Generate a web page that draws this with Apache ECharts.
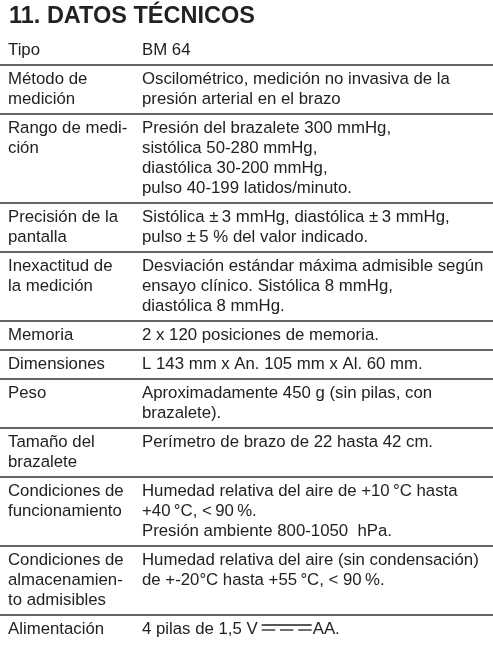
<!DOCTYPE html>
<html>
<head>
<meta charset="utf-8">
<script src="https://cdn.jsdelivr.net/npm/echarts@6/dist/echarts.min.js"></script>
<style>
html,body{margin:0;padding:0;background:#fff;}
#chart{width:493px;height:658px;}
</style>
</head>
<body>
<div id="chart"></div>
<script>
// ---- data ----
const titleText = "11. DATOS TÉCNICOS";
const labels = [
  "Tipo",
  "Método de\nmedición",
  "Rango de medi-\nción",
  "Precisión de la\npantalla",
  "Inexactitud de\nla medición",
  "Memoria",
  "Dimensiones",
  "Peso",
  "Tamaño del\nbrazalete",
  "Condiciones de\nfuncionamiento",
  "Condiciones de\nalmacenamien-\nto admisibles",
  "Alimentación"
];
const values = [
  "BM 64",
  "Oscilométrico, medición no invasiva de la\npresión arterial en el brazo",
  "Presión del brazalete 300 mmHg,\nsistólica 50-280 mmHg,\ndiastólica 30-200 mmHg,\npulso 40-199 latidos/minuto.",
  "Sistólica \u00b1\u20093 mmHg, diastólica \u00b1\u20093 mmHg,\npulso \u00b1\u20095 % del valor indicado.",
  "Desviación estándar máxima admisible según\nensayo clínico. Sistólica 8 mmHg,\ndiastólica 8 mmHg.",
  "2 x 120 posiciones de memoria.",
  "L 143 mm x An. 105 mm x Al. 60 mm.",
  "Aproximadamente 450 g (sin pilas, con\nbrazalete).",
  "Perímetro de brazo de 22 hasta 42 cm.",
  "Humedad relativa del aire de +10\u2009°C hasta\n+40\u2009°C, <\u200990\u2009%.\nPresión ambiente 800-1050  hPa.",
  "Humedad relativa del aire (sin condensación)\nde +-20°C hasta +55\u2009°C, < 90\u2009%.",
  "4 pilas de 1,5 V \u2393 AA."
];
const DC_SYMBOL = "\u2393";

// ---- layout / style ----
const W = 493, H = 658;
const FONT_SIZE = 16.8, LINE_H = 20, PAD = 9, TABLE_TOP = 36;
const LABEL_X = 8, VALUE_X = 142;
const FONT = FONT_SIZE + 'px "Liberation Sans", Arial, sans-serif';
const TEXT_COLOR = '#222';
const RULE_COLOR = '#333';

const lineCounts = labels.map((l, i) =>
  Math.max(l.split('\n').length, values[i].split('\n').length));
const rows = [];
let acc = TABLE_TOP;
lineCounts.forEach((n, i) => {
  const h = n * LINE_H + PAD;
  rows.push([acc, acc + h, i]);
  acc += h;
});

const ctx = document.createElement('canvas').getContext('2d');
ctx.font = FONT;
const measure = t => ctx.measureText(t).width;

function renderItem(params, api) {
  const i = api.value(2);
  const top = api.coord([0, api.value(0)])[1];
  const bottom = api.coord([0, api.value(1)])[1];
  const xL = api.coord([LABEL_X, 0])[0];
  const xV = api.coord([VALUE_X, 0])[0];
  const x0 = api.coord([0, 0])[0];
  const x1 = api.coord([W, 0])[0];
  const ty = top + PAD / 2;
  const children = [];
  children.push({
    type: 'text',
    style: { x: xL, y: ty, text: labels[i], font: FONT, fill: TEXT_COLOR,
             lineHeight: LINE_H, verticalAlign: 'top', align: 'left' }
  });
  const val = values[i];
  if (val.indexOf(DC_SYMBOL) >= 0) {
    const parts = val.split(DC_SYMBOL);
    const p0 = parts[0].replace(/\s+$/, '');
    const p1 = parts[1].replace(/^\s+/, '');
    children.push({
      type: 'text',
      style: { x: xV, y: ty, text: p0, font: FONT, fill: TEXT_COLOR,
               lineHeight: LINE_H, verticalAlign: 'top', align: 'left' }
    });
    const sx = xV + measure(p0) + 4;
    const sw = 50;
    const cy = ty + LINE_H / 2;
    children.push({ type: 'line', shape: { x1: sx, y1: cy - 4.5, x2: sx + sw, y2: cy - 4.5 },
                    style: { stroke: TEXT_COLOR, lineWidth: 1.3 } });
    const dash = 13.5, gap = (sw - 3 * dash) / 2;
    for (let k = 0; k < 3; k++) {
      const dx = sx + k * (dash + gap);
      children.push({ type: 'line', shape: { x1: dx, y1: cy + 0.5, x2: dx + dash, y2: cy + 0.5 },
                      style: { stroke: TEXT_COLOR, lineWidth: 1.3 } });
    }
    children.push({
      type: 'text',
      style: { x: sx + sw + 1, y: ty, text: p1, font: FONT, fill: TEXT_COLOR,
               lineHeight: LINE_H, verticalAlign: 'top', align: 'left' }
    });
  } else {
    children.push({
      type: 'text',
      style: { x: xV, y: ty, text: val, font: FONT, fill: TEXT_COLOR,
               lineHeight: LINE_H, verticalAlign: 'top', align: 'left' }
    });
  }
  if (i < labels.length - 1) {
    children.push({ type: 'line', shape: { x1: x0, y1: bottom, x2: x1, y2: bottom },
                    style: { stroke: RULE_COLOR, lineWidth: 1.4 } });
  }
  return { type: 'group', children: children };
}

const chart = echarts.init(document.getElementById('chart'), null, { renderer: 'canvas' });
chart.setOption({
  animation: false,
  backgroundColor: '#fff',
  title: {
    text: titleText, left: 9, top: 5, padding: 0,
    textStyle: { fontFamily: '"Liberation Sans", Arial, sans-serif', fontSize: 23.5,
                 fontWeight: 'bold', color: TEXT_COLOR }
  },
  grid: { left: 0, right: 0, top: 0, bottom: 0 },
  xAxis: { type: 'value', min: 0, max: W, show: false },
  yAxis: { type: 'value', min: 0, max: H, inverse: true, show: false },
  series: [{
    type: 'custom',
    renderItem: renderItem,
    clip: false,
    data: rows
  }]
});
</script>
</body>
</html>
